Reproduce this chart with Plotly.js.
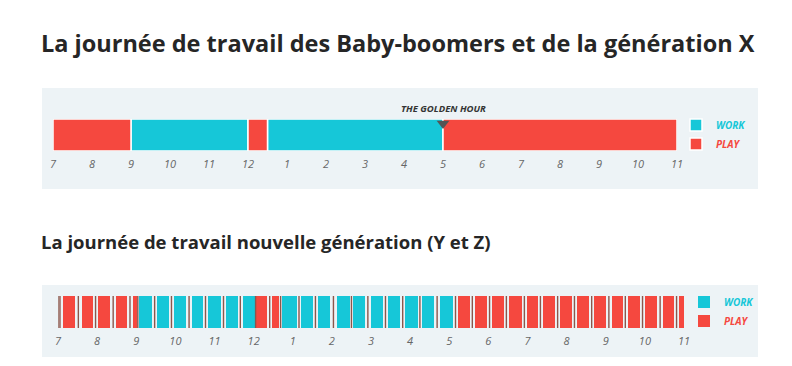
<!DOCTYPE html>
<html>
<head>
<meta charset="utf-8">
<script src="https://cdn.plot.ly/plotly-3.0.1.min.js"></script>
<style>html,body{margin:0;padding:0;background:#fff;}#chart{width:792px;height:366px;}</style>
</head>
<body>
<div id="chart"></div>
<script>
// ---- Data (hours on a 24h clock, 7 = 7 am, 23 = 11 pm) ----
const tickVals = [7, 8, 9, 10, 11, 12, 13, 14, 15, 16, 17, 18, 19, 20, 21, 22, 23];
const tickText = ['7', '8', '9', '10', '11', '12', '1', '2', '3', '4', '5', '6', '7', '8', '9', '10', '11'];

// Baby-boomers & génération X
const boomerWorkStart = [9, 12.5];
const boomerWorkEnd   = [12, 17];
const boomerPlayStart = [7, 12, 17];
const boomerPlayEnd   = [9, 12.5, 23];
const goldenHour = 17;

// Nouvelle génération (Y et Z)
const newWorkStart = [9.07, 9.53, 9.96, 10.42, 10.83, 11.29, 11.73, 12.73, 13.21, 13.65, 14.13, 14.54, 15.00, 15.43, 15.87, 16.30, 16.76];
const newWorkEnd   = [9.40, 9.84, 10.27, 10.71, 11.17, 11.60, 12.04, 13.11, 13.52, 13.95, 14.46, 14.85, 15.31, 15.74, 16.20, 16.61, 17.10];
const newPlayStart = [7.13, 7.61, 8.02, 8.48, 8.92, 12.06, 12.47, 17.22, 17.66, 18.09, 18.53, 18.99, 19.40, 19.83, 20.27, 20.70, 21.16, 21.57, 22.00, 22.46, 22.87];
const newPlayEnd   = [7.43, 7.89, 8.33, 8.76, 9.02, 12.34, 12.65, 17.53, 17.97, 18.40, 18.86, 19.27, 19.71, 20.14, 20.57, 21.01, 21.44, 21.88, 22.31, 22.74, 23.00];
const newBreaks    = [7.0, 7.05, 7.52, 7.96, 8.41, 8.84, 9.04, 9.47, 9.90, 10.35, 10.77, 11.23, 11.66, 12.05, 12.41, 12.69, 13.16, 13.58, 14.04, 14.50, 14.92, 15.37, 15.81, 16.25, 16.69, 17.16, 17.59, 18.03, 18.46, 18.92, 19.33, 19.77, 20.20, 20.64, 21.08, 21.50, 21.94, 22.39, 22.81];

// ---- Styles ----
const WORK_COLOR = '#16c7d8';
const PLAY_COLOR = '#f5483f';
const PANEL = '#edf3f6';
const W = 792, H = 366;
const px = v => v / W;
const py = v => 1 - v / H;

function seg(starts, ends, name, color, xa, ya, legend, lineW) {
  return {
    type: 'bar', orientation: 'h', name: name,
    base: starts, x: starts.map((s, i) => ends[i] - s),
    y: starts.map(() => 0), width: 1,
    marker: {color: color, line: {color: '#ffffff', width: lineW}},
    xaxis: xa, yaxis: ya, legend: legend, hoverinfo: 'skip'
  };
}
const workLbl = '<span style="color:' + WORK_COLOR + '"><b><i>WORK</i></b></span>';
const playLbl = '<span style="color:' + PLAY_COLOR + '"><b><i>PLAY</i></b></span>';

const traces = [
  Object.assign(seg(boomerWorkStart, boomerWorkEnd, workLbl, WORK_COLOR, 'x', 'y', 'legend', 1.5), {legendrank: 1}),
  Object.assign(seg(boomerPlayStart, boomerPlayEnd, playLbl, PLAY_COLOR, 'x', 'y', 'legend', 1.5), {legendrank: 2}),
  {
    type: 'scatter', mode: 'markers', x: [goldenHour], y: [0.36], xaxis: 'x', yaxis: 'y',
    marker: {symbol: 'triangle-down', size: 11, color: '#555555'}, showlegend: false, hoverinfo: 'skip'
  },
  Object.assign(seg(newWorkStart, newWorkEnd, workLbl, WORK_COLOR, 'x2', 'y2', 'legend2', 0), {legendrank: 1}),
  Object.assign(seg(newPlayStart, newPlayEnd, playLbl, PLAY_COLOR, 'x2', 'y2', 'legend2', 0), {legendrank: 2}),
  {
    type: 'scatter', mode: 'markers', x: newBreaks, y: newBreaks.map(() => 0), xaxis: 'x2', yaxis: 'y2',
    marker: {symbol: 'line-ns-open', size: 32, line: {color: '#7e7e7e', width: 1.4}}, showlegend: false, hoverinfo: 'skip'
  }
];

const xCommon = {
  range: [7, 23], tickmode: 'array', tickvals: tickVals, ticktext: tickText,
  showgrid: false, zeroline: false, showline: false, ticks: 'outside', ticklen: 3, tickcolor: 'rgba(0,0,0,0)',
  tickfont: {family: 'Open Sans', size: 11, color: '#666666', style: 'italic'}, fixedrange: true
};
const yCommon = {range: [-0.5, 0.5], showgrid: false, zeroline: false, showticklabels: false, showline: false, fixedrange: true};

const layout = {
  width: W, height: H, margin: {l: 0, r: 0, t: 0, b: 0},
  paper_bgcolor: '#ffffff', plot_bgcolor: '#ffffff',
  barmode: 'overlay', bargap: 0, hovermode: false, showlegend: true,
  xaxis: Object.assign({}, xCommon, {domain: [px(53), px(677)], anchor: 'y'}),
  yaxis: Object.assign({}, yCommon, {domain: [py(151), py(119)], anchor: 'x'}),
  xaxis2: Object.assign({}, xCommon, {domain: [px(58), px(684)], anchor: 'y2'}),
  yaxis2: Object.assign({}, yCommon, {domain: [py(328), py(296)], anchor: 'x2'}),
  legend: {x: px(676), xanchor: 'left', y: py(134.5), yanchor: 'middle', bgcolor: 'rgba(0,0,0,0)',
    font: {family: 'Open Sans', size: 10}, traceorder: 'normal', itemclick: false, itemdoubleclick: false},
  legend2: {x: px(684), xanchor: 'left', y: py(311.5), yanchor: 'middle', bgcolor: 'rgba(0,0,0,0)',
    font: {family: 'Open Sans', size: 10}, traceorder: 'normal', itemclick: false, itemdoubleclick: false},
  shapes: [
    {type: 'rect', xref: 'paper', yref: 'paper', x0: px(42), x1: px(758), y0: py(189), y1: py(88), fillcolor: PANEL, line: {width: 0}, layer: 'below'},
    {type: 'rect', xref: 'paper', yref: 'paper', x0: px(42), x1: px(758), y0: py(357), y1: py(285), fillcolor: PANEL, line: {width: 0}, layer: 'below'}
  ],
  annotations: [
    {xref: 'paper', yref: 'paper', x: px(39), y: py(43), xanchor: 'left', yanchor: 'middle', showarrow: false,
      text: '<b>La journée de travail des Baby-boomers et de la génération X</b>',
      font: {family: 'Open Sans', size: 23.5, color: '#262626'}},
    {xref: 'paper', yref: 'paper', x: px(39), y: py(242), xanchor: 'left', yanchor: 'middle', showarrow: false,
      text: '<b>La journée de travail nouvelle génération (Y et Z)</b>',
      font: {family: 'Open Sans', size: 18.5, color: '#262626'}},
    {xref: 'x', yref: 'paper', x: goldenHour, y: py(108), xanchor: 'center', yanchor: 'middle', showarrow: false,
      text: '<b><i>THE GOLDEN HOUR</i></b>', font: {family: 'Open Sans', size: 9.5, color: '#333333'}}
  ]
};

Plotly.newPlot('chart', traces, layout, {staticPlot: true, displayModeBar: false});
</script>
</body>
</html>
